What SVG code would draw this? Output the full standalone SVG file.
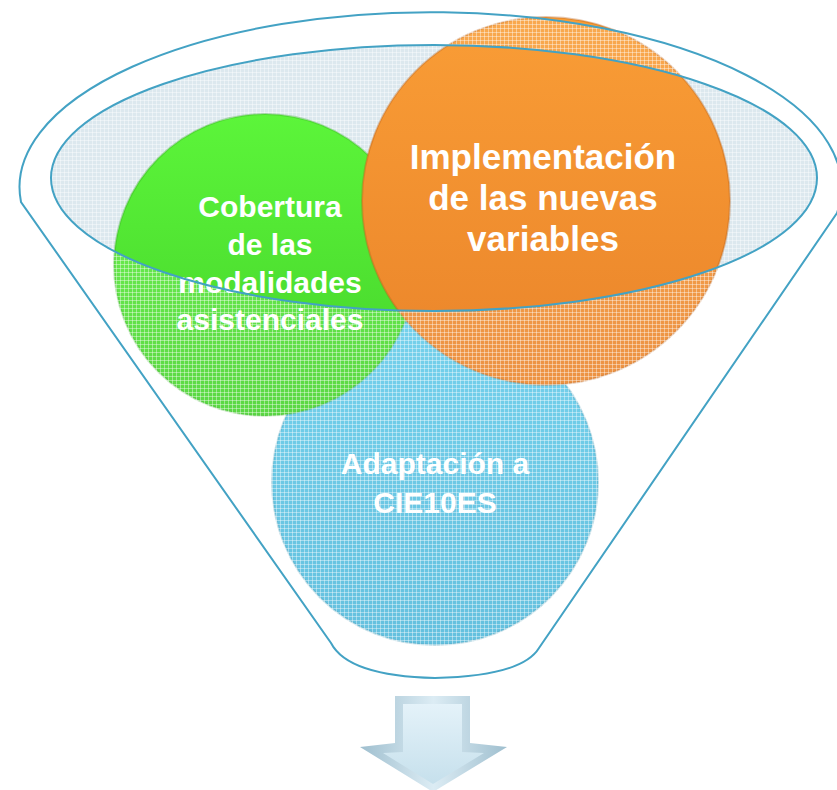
<svg xmlns="http://www.w3.org/2000/svg" width="837" height="790" viewBox="0 0 837 790">
<defs>
<pattern id="grid" width="4" height="4" patternUnits="userSpaceOnUse">
<path d="M0 0.5H4M0.5 0V4" stroke="#ffffff" stroke-width="1" stroke-opacity="0.4"/>
</pattern>
<linearGradient id="gGreen" x1="0" y1="0" x2="0" y2="1">
<stop offset="0" stop-color="#5cf53a"/><stop offset="1" stop-color="#44d22a"/>
</linearGradient>
<linearGradient id="gOrange" x1="0" y1="0" x2="0" y2="1">
<stop offset="0" stop-color="#f99d36"/><stop offset="1" stop-color="#ea842a"/>
</linearGradient>
<linearGradient id="gBlue" x1="0" y1="0" x2="0" y2="1">
<stop offset="0" stop-color="#62cbea"/><stop offset="1" stop-color="#4fb8da"/>
</linearGradient>
<linearGradient id="gArrow" x1="0" y1="0" x2="1" y2="0">
<stop offset="0" stop-color="#9fbfcf"/><stop offset="0.5" stop-color="#dcecf4"/><stop offset="1" stop-color="#9fbfcf"/>
</linearGradient>
<linearGradient id="gArrowIn" x1="0" y1="0" x2="0" y2="1">
<stop offset="0" stop-color="#e4f2f9"/><stop offset="1" stop-color="#c6e0ec"/>
</linearGradient>
</defs>
<style>
.lbl{font-family:"Liberation Sans","Open Sans",sans-serif;font-weight:bold;font-size:30px;fill:#ffffff;text-anchor:middle}
.big{font-size:35px}
.rim{stroke-opacity:0.35;stroke-width:2}
.line{fill:none;stroke:#43a2c4;stroke-width:2}
</style>

<g id="bowl-back">
<ellipse cx="434" cy="178" rx="383" ry="133" fill="#dce8ee"/>
<ellipse cx="434" cy="178" rx="383" ry="133" fill="url(#grid)"/>
</g>

<g id="node-blue">
<circle cx="435" cy="482" r="163" fill="url(#gBlue)" stroke="#3b96b3" class="rim"/>
</g>
<g id="node-green">
<circle cx="265" cy="265" r="151" fill="url(#gGreen)" stroke="#35a81f" class="rim"/>
</g>
<g id="node-orange">
<circle cx="546" cy="201" r="184" fill="url(#gOrange)" stroke="#b85e18" class="rim"/>
</g>

<g id="funnel-overlay">
<path fill-rule="evenodd" fill="#ffffff" fill-opacity="0.12" d="M21 202 A411 175 0 1 1 837 213 L539 648 Q522 676 435 678 Q348 676 331 643 Z M51 178 A383 133 0 1 0 817 178 A383 133 0 1 0 51 178 Z"/>
<path fill-rule="evenodd" fill="url(#grid)" d="M21 202 A411 175 0 1 1 837 213 L539 648 Q522 676 435 678 Q348 676 331 643 Z M51 178 A383 133 0 1 0 817 178 A383 133 0 1 0 51 178 Z"/>
</g>

<g id="labels">
<text class="lbl" x="270" y="217">Cobertura</text>
<text class="lbl" x="270" y="255">de las</text>
<text class="lbl" x="270" y="293">modalidades</text>
<text class="lbl" x="270" y="330">asistenciales</text>
<text class="lbl big" x="543" y="169">Implementación</text>
<text class="lbl big" x="543" y="210">de las nuevas</text>
<text class="lbl big" x="543" y="251">variables</text>
<text class="lbl" x="435" y="474">Adaptación a</text>
<text class="lbl" x="435" y="513">CIE10ES</text>
</g>

<g id="connectors">
<path class="line" d="M21 202 A411 175 0 1 1 837 213 L539 648 Q522 676 435 678 Q348 676 331 643 Z"/>
<ellipse class="line" cx="434" cy="178" rx="383" ry="133"/>
<g id="arrow">
<polygon points="395,696 470,696 470,743 507,747 433,792 360,747 395,743" fill="url(#gArrow)"/>
<polygon points="403,704 462,704 462,752 484,753 433,784 383,753 403,752" fill="url(#gArrowIn)"/>
</g>
</g>
</svg>
